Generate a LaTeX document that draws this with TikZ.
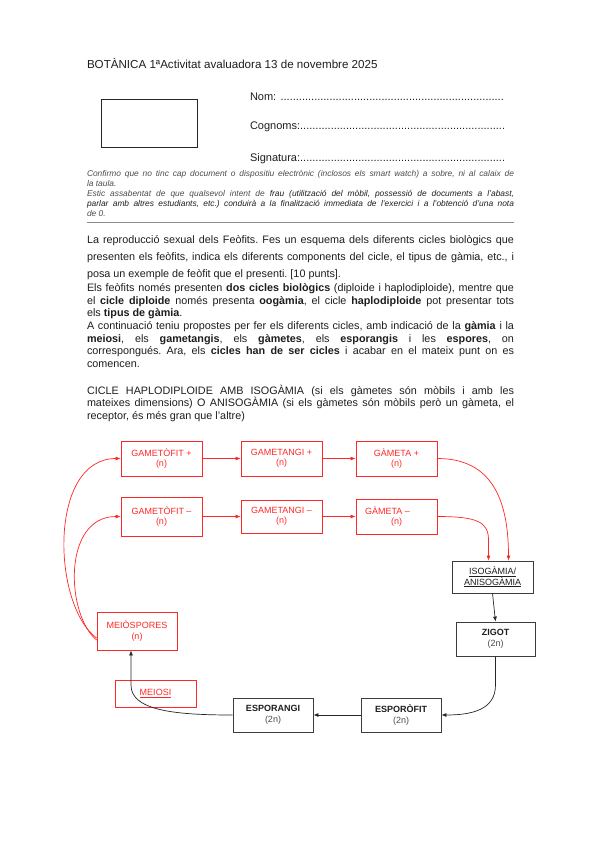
\documentclass[tikz,border=0pt]{standalone}
\usepackage{fontspec}
\setmainfont{Liberation Sans}
\usetikzlibrary{arrows.meta}
\definecolor{redc}{RGB}{255,40,40}
\definecolor{boxgray}{RGB}{60,60,60}
\definecolor{txtc}{RGB}{30,30,30}
\frenchspacing
\begin{document}
\begin{tikzpicture}[x=1pt,y=-1pt,
  txt/.style={anchor=base west, inner sep=0pt, outer sep=0pt, text=txtc},
  jl/.style={txt, font=\fontsize{10.8}{12}\selectfont},
  dl/.style={txt, font=\fontsize{8.4}{9}\selectfont\itshape},
  rbox/.style={draw=redc, line width=0.8pt, inner sep=0pt, align=center, text=redc, font=\fontsize{9}{10.5}\selectfont},
  kbox/.style={draw=boxgray, line width=0.8pt, inner sep=0pt, align=center, text=txtc, font=\fontsize{9}{10.5}\selectfont},
  rarr/.style={draw=redc, line width=0.7pt, -{Latex[length=5pt,width=4pt]}},
  karr/.style={draw=black!85, line width=0.7pt, -{Latex[length=5pt,width=4pt]}},
]
\useasboundingbox (0,0) rectangle (599,848);
\fill[white] (0,0) rectangle (599,848);

% header
\node[txt, font=\fontsize{11.6}{13}\selectfont] (head) at (87,69) {BOTÀNICA 1ªActivitat avaluadora 13 de novembre 2025};
\node[draw=black!85, line width=1.2pt, minimum width=96pt, minimum height=48pt, inner sep=0pt, anchor=north west] (photo) at (101,99) {};
\node[txt, font=\fontsize{11}{13}\selectfont] (nom) at (250,101) {\makebox[255pt][l]{Nom: \cleaders\hbox{.}\hfill}};
\node[txt, font=\fontsize{11}{13}\selectfont] (cognoms) at (250,130) {\makebox[255pt][l]{Cognoms:\cleaders\hbox{.}\hfill}};
\node[txt, font=\fontsize{11}{13}\selectfont] (signatura) at (250,161) {\makebox[255pt][l]{Signatura:\cleaders\hbox{.}\hfill}};

% disclaimer
\node[dl, text=black!70] (d1) at (87,176) {\makebox[427pt][s]{Confirmo que no tinc cap document o dispositiu electrònic (inclosos els smart watch) a sobre, ni al calaix de}};
\node[dl, text=black!70] (d2) at (87,186) {la taula.};
\node[dl] (d3) at (87,196) {\makebox[427pt][s]{\textcolor{black!70}{Estic assabentat de que qualsevol intent de} frau (utilització del mòbil, possessió de documents a l'abast,}};
\node[dl] (d4) at (87,206) {\makebox[427pt][s]{parlar amb altres estudiants, etc.) conduirà a la finalització immediata de l'exercici i a l'obtenció d'una nota}};
\node[dl, text=black!70] (d5) at (87,216) {de 0.};
\draw[black!45, line width=1.6pt] (87,222.5) -- (514,222.5);

% paragraph 1
\node[jl] (p1a) at (87,243) {\makebox[427pt][s]{La reproducció sexual dels Feòfits. Fes un esquema dels diferents cicles biològics que}};
\node[jl] (p1b) at (87,260) {\makebox[427pt][s]{presenten els feòfits, indica els diferents components del cicle, el tipus de gàmia, etc., i}};
\node[jl] (p1c) at (87,277) {posa un exemple de feòfit que el presenti. [10 punts].};

% paragraph 2
\node[jl] (p2a) at (87,291) {\makebox[427pt][s]{Els feòfits només presenten \textbf{dos cicles biològics} (diploide i haplodiploide), mentre que}};
\node[jl] (p2b) at (87,304) {\makebox[427pt][s]{el \textbf{cicle diploide} només presenta \textbf{oogàmia}, el cicle \textbf{haplodiploide} pot presentar tots}};
\node[jl] (p2c) at (87,316.5) {els \textbf{tipus de gàmia}.};
\node[jl] (p2d) at (87,329) {\makebox[427pt][s]{A continuació teniu propostes per fer els diferents cicles, amb indicació de la \textbf{gàmia} i la}};
\node[jl] (p2e) at (87,342) {\makebox[427pt][s]{\textbf{meiosi}, els \textbf{gametangis}, els \textbf{gàmetes}, els \textbf{esporangis} i les \textbf{espores}, on}};
\node[jl] (p2f) at (87,354.5) {\makebox[427pt][s]{correspongués. Ara, els \textbf{cicles han de ser cicles} i acabar en el mateix punt on es}};
\node[jl] (p2g) at (87,367) {comencen.};

% paragraph 3
\node[jl] (p3a) at (87,394) {\makebox[427pt][s]{CICLE HAPLODIPLOIDE AMB ISOGÀMIA (si els gàmetes són mòbils i amb les}};
\node[jl] (p3b) at (87,406.5) {\makebox[427pt][s]{mateixes dimensions) O ANISOGÀMIA (si els gàmetes són mòbils però un gàmeta, el}};
\node[jl] (p3c) at (87,419) {receptor, és més gran que l'altre)};

% diagram boxes
\node[rbox, minimum width=81pt, minimum height=35pt] (gfp) at (161.5,458.5) {GAMETÒFIT +\\(n)};
\node[rbox, minimum width=81pt, minimum height=35pt] (gtp) at (281.5,458.5) {GAMETANGI +\\(n)};
\node[rbox, minimum width=81pt, minimum height=35pt] (gmp) at (396.5,458.5) {GÀMETA +\\(n)};
\node[rbox, minimum width=81pt, minimum height=39pt] (gfm) at (161.5,516.5) {GAMETÒFIT –\\(n)};
\node[rbox, minimum width=81pt, minimum height=33pt] (gtm) at (281.5,516.5) {GAMETANGI –\\(n)};
\node[rbox, minimum width=81pt, minimum height=35pt] (gmm) at (396.5,516.5) {GÀMETA –\hspace*{18pt}\\(n)};
\node[kbox, minimum width=81pt, minimum height=32pt] (iso) at (492.5,577) {\underline{ISOGÀMIA/}\\\underline{ANISOGÀMIA}};
\node[kbox, minimum width=79pt, minimum height=34pt] (zig) at (495.5,639) {\textbf{ZIGOT}\\\textcolor{black!70}{(2n)}};
\node[kbox, minimum width=80pt, minimum height=34pt] (espf) at (401,715) {\textbf{ESPORÒFIT}\\\textcolor{black!70}{(2n)}};
\node[kbox, minimum width=80pt, minimum height=34pt] (espa) at (273,715) {\textbf{ESPORANGI}\\\textcolor{black!70}{(2n)}};
\node[rbox, minimum width=80pt, minimum height=38pt] (meios) at (137,631) {MEIÒSPORES\\(n)};
\node[rbox, minimum width=81pt, minimum height=27pt] (meiosi) at (155.5,693.5) {\underline{MEIOSI}};

% connectors
\draw[rarr] (gfp.east) -- (gtp.west);
\draw[rarr] (gtp.east) -- (gmp.west);
\draw[rarr] (gfm.east) -- (gtm.west);
\draw[rarr] (gtm.east) -- (gmm.west);
\draw[rarr] (gmp.east) .. controls +(55,0) and +(0,-60) .. ([xshift=16pt]iso.north);
\coordinate (gmmbend) at (488.5,540);
\draw[rarr] (gmm.east) .. controls +(40,0) and +(0,-18) .. (gmmbend) -- ([xshift=-4pt]iso.north);
\draw[karr] (iso.south) -- (zig.north);
\coordinate (zigbend) at (495.5,685);
\draw[karr] (zig.south) -- (zigbend) .. controls +(0,25) and +(30,0) .. (espf.east);
\draw[karr] (espf.west) -- (espa.east);
\coordinate (meiobend) at (131,685);
\draw[karr] (espa.west) .. controls +(-60,0) and +(0,25) .. (meiobend) -- ([xshift=-6pt]meios.south);
\draw[rarr] ([yshift=-7pt]meios.west) .. controls (52,605) and (48,458.5) .. (gfp.west);
\draw[rarr] ([yshift=-9pt]meios.west) .. controls (66,615) and (62,516.5) .. (gfm.west);
\end{tikzpicture}
\end{document}
